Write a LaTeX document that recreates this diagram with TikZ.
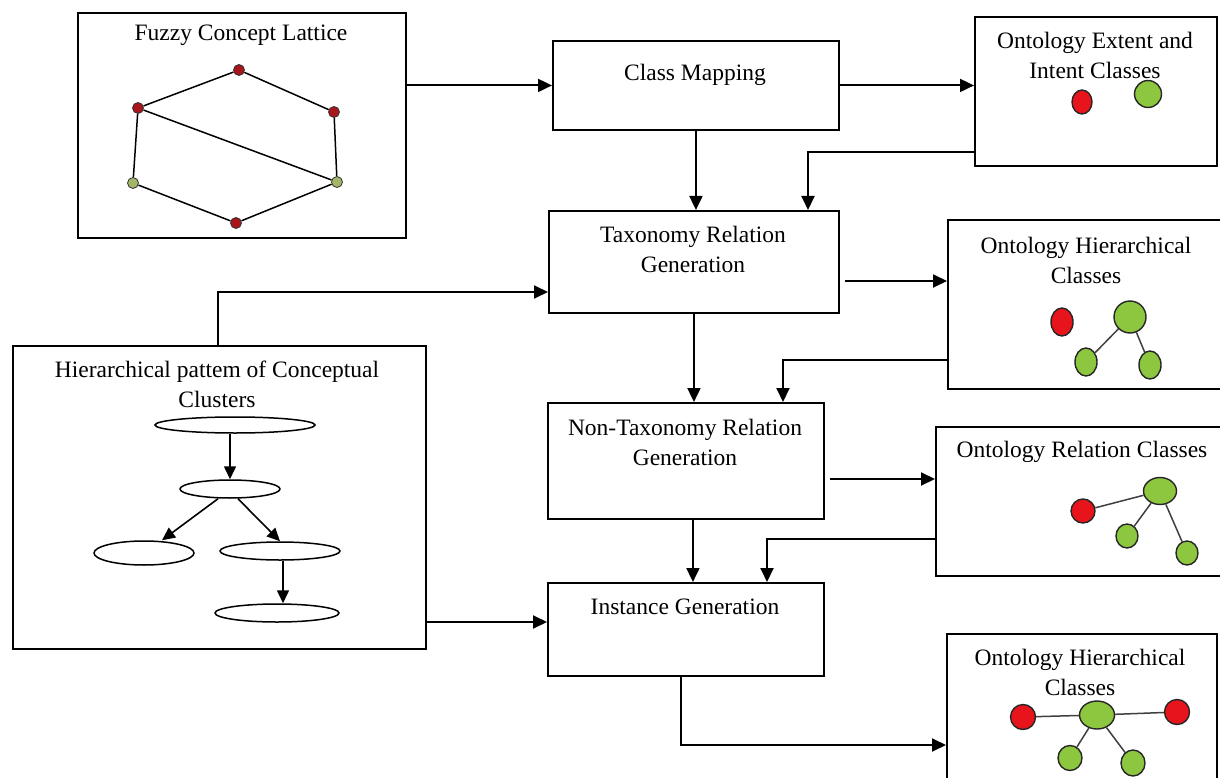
\documentclass[tikz,border=0pt]{standalone}
\usepackage{fontspec}
\setmainfont{Liberation Serif}
\usetikzlibrary{arrows.meta, shapes.geometric, positioning}

\definecolor{latred}{HTML}{A8161C}
\definecolor{latgreen}{HTML}{A3B567}
\definecolor{ontred}{HTML}{E8141B}
\definecolor{ontgreen}{HTML}{8DC63F}

\begin{document}
\begin{tikzpicture}[x=1pt, y=-1pt,
  box/.style={draw, line width=1.9pt, anchor=north west, inner sep=0pt},
  txt/.style={align=center, font=\fontsize{23.5}{30}\selectfont, inner sep=0pt},
  arr/.style={line width=1.9pt, -{Triangle[length=14pt,width=13pt]}},
  thinarr/.style={line width=1.6pt, -{Triangle[length=13pt,width=12pt]}},
  lnk/.style={line width=1.5pt},
  ldot/.style={circle, draw=black!80, line width=0.8pt, inner sep=0pt, minimum size=11pt},
  oval/.style={ellipse, draw=black!85, line width=1.4pt, inner sep=0pt},
  clus/.style={ellipse, draw, line width=1.5pt, inner sep=0pt, fill=white}]

\useasboundingbox[fill=white] (0,0) rectangle (1220,778);

% boxes
\node[box, minimum width=328pt, minimum height=225pt] (lat) at (77,12) {};
\node[box, minimum width=286pt, minimum height=89pt] (cm) at (552,40) {};
\node[box, minimum width=242pt, minimum height=149pt] (ext) at (974,16) {};
\node[box, minimum width=290pt, minimum height=102pt] (tax) at (548,210) {};
\node[box, minimum width=290pt, minimum height=169pt] (hc1) at (947,219) {};
\node[box, minimum width=276pt, minimum height=116pt] (ntax) at (547,402) {};
\node[box, minimum width=300pt, minimum height=149pt] (rel) at (935,426) {};
\node[box, minimum width=276pt, minimum height=93pt] (inst) at (547,582) {};
\node[box, minimum width=270pt, minimum height=170pt] (hc2) at (946,633) {};
\node[box, minimum width=413pt, minimum height=303pt] (hp) at (12,345) {};

% texts
\node[txt] (latt) at (241,35) {Fuzzy Concept Lattice};
\node[txt] (cmt) at (695,75) {Class Mapping};
\node[txt] (extt) at (1095,55) {Ontology Extent and\\Intent Classes};
\node[txt] (taxt) at (693,249) {Taxonomy Relation\\Generation};
\node[txt] (hc1t) at (1086,260) {Ontology Hierarchical\\Classes};
\node[txt] (ntaxt) at (685,442) {Non-Taxonomy Relation\\Generation};
\node[txt] (relt) at (1082,452) {Ontology Relation Classes};
\node[txt] (instt) at (685,607) {Instance Generation};
\node[txt] (hc2t) at (1080,672) {Ontology Hierarchical\\Classes};
\node[txt] (hpt) at (217,384) {Hierarchical pattem of Conceptual\\Clusters};

% lattice
\node[ldot, fill=latred] (l1) at (239,70) {};
\node[ldot, fill=latred] (l2) at (138,108) {};
\node[ldot, fill=latred] (l3) at (334,112) {};
\node[ldot, fill=latgreen] (l4) at (133,183) {};
\node[ldot, fill=latgreen] (l5) at (337,182) {};
\node[ldot, fill=latred] (l6) at (236,223) {};
\draw[lnk] (l1) -- (l2) (l1) -- (l3) (l2) -- (l4) (l2) -- (l5)
  (l3) -- (l5) (l4) -- (l6) (l5) -- (l6);

% extent and intent classes
\node[oval, fill=ontred, minimum width=20pt, minimum height=24pt] (x1) at (1082,102) {};
\node[oval, fill=ontgreen, minimum size=27pt] (x2) at (1148,94) {};

% hierarchical classes
\node[oval, fill=ontred, minimum width=22pt, minimum height=28pt] (h1) at (1062,322) {};
\node[oval, fill=ontgreen, minimum size=32pt] (h2) at (1130,317) {};
\node[oval, fill=ontgreen, minimum width=22pt, minimum height=28pt] (h3) at (1086,362) {};
\node[oval, fill=ontgreen, minimum width=22pt, minimum height=28pt] (h4) at (1150,365) {};
\draw[lnk, black!75] (h2) -- (h3) (h2) -- (h4);

% relation classes
\node[oval, fill=ontred, minimum size=24pt] (r1) at (1083,511) {};
\node[oval, fill=ontgreen, minimum width=33pt, minimum height=27pt] (r2) at (1160,491) {};
\node[oval, fill=ontgreen, minimum width=22pt, minimum height=24pt] (r3) at (1127,536) {};
\node[oval, fill=ontgreen, minimum width=22pt, minimum height=24pt] (r4) at (1187,553) {};
\draw[lnk, black!75] (r1) -- (r2) (r2) -- (r3) (r2) -- (r4);

% hierarchical classes (final)
\node[oval, fill=ontred, minimum size=25pt] (f1) at (1023,717) {};
\node[oval, fill=ontgreen, minimum width=35pt, minimum height=28pt] (f2) at (1097,715) {};
\node[oval, fill=ontred, minimum size=25pt] (f3) at (1177,712) {};
\node[oval, fill=ontgreen, minimum width=24pt, minimum height=25pt] (f4) at (1070,758) {};
\node[oval, fill=ontgreen, minimum width=24pt, minimum height=26pt] (f5) at (1133,763) {};
\draw[lnk, black!75] (f1) -- (f2) (f2) -- (f3) (f2) -- (f4) (f2) -- (f5);

% conceptual clusters
\node[clus, minimum width=160pt, minimum height=16pt] (e1) at (235,425) {};
\node[clus, minimum width=100pt, minimum height=18pt] (e2) at (230,489) {};
\node[clus, minimum width=100pt, minimum height=24pt] (e3) at (144,553) {};
\node[clus, minimum width=120pt, minimum height=18pt] (e4) at (280,551) {};
\node[clus, minimum width=124pt, minimum height=18pt] (e5) at (277,613) {};
\draw[thinarr] (e1.south -| e2) -- (e2.north);
\draw[thinarr] ([xshift=-12pt]e2.south) -- ([xshift=18pt]e3.north);
\draw[thinarr] ([xshift=8pt]e2.south) -- (e4.north);
\draw[thinarr] ([xshift=3pt]e4.south) -- ([xshift=3pt]e4.south |- e5.north);

% main flow
\draw[arr] (lat.east |- cm.west) -- (cm.west);
\draw[arr] (cm.east) -- (cm.east -| ext.west);
\draw[arr] (cm.south) -- (cm.south |- tax.north);
\coordinate (fb1) at (808,152);
\draw[arr] (ext.west |- fb1) -- (fb1) -- (fb1 |- tax.north);

\coordinate (o1) at (845,281);
\draw[arr] (o1) -- (o1 -| hc1.west);
\draw[arr] (tax.south) -- (tax.south |- ntax.north);
\coordinate (fb2) at (783,360);
\draw[arr] (hc1.west |- fb2) -- (fb2) -- (fb2 |- ntax.north);

\coordinate (o2) at (830,479);
\draw[arr] (o2) -- (o2 -| rel.west);
\draw[arr] ([xshift=7pt]ntax.south) -- ([xshift=7pt]inst.north);
\coordinate (fb3) at (767,539);
\draw[arr] (rel.west |- fb3) -- (fb3) -- (fb3 |- inst.north);

% clusters to taxonomy and instance
\coordinate (up) at (218,292);
\draw[arr] (hp.north -| up) -- (up) -- (up -| tax.west);
\coordinate (o3) at (0,622);
\draw[arr] (hp.east |- o3) -- (inst.west |- o3);

% instance to final classes
\coordinate (dn) at (681,745);
\draw[arr] (inst.south -| dn) -- (dn) -- (dn -| hc2.west);

\end{tikzpicture}
\end{document}
